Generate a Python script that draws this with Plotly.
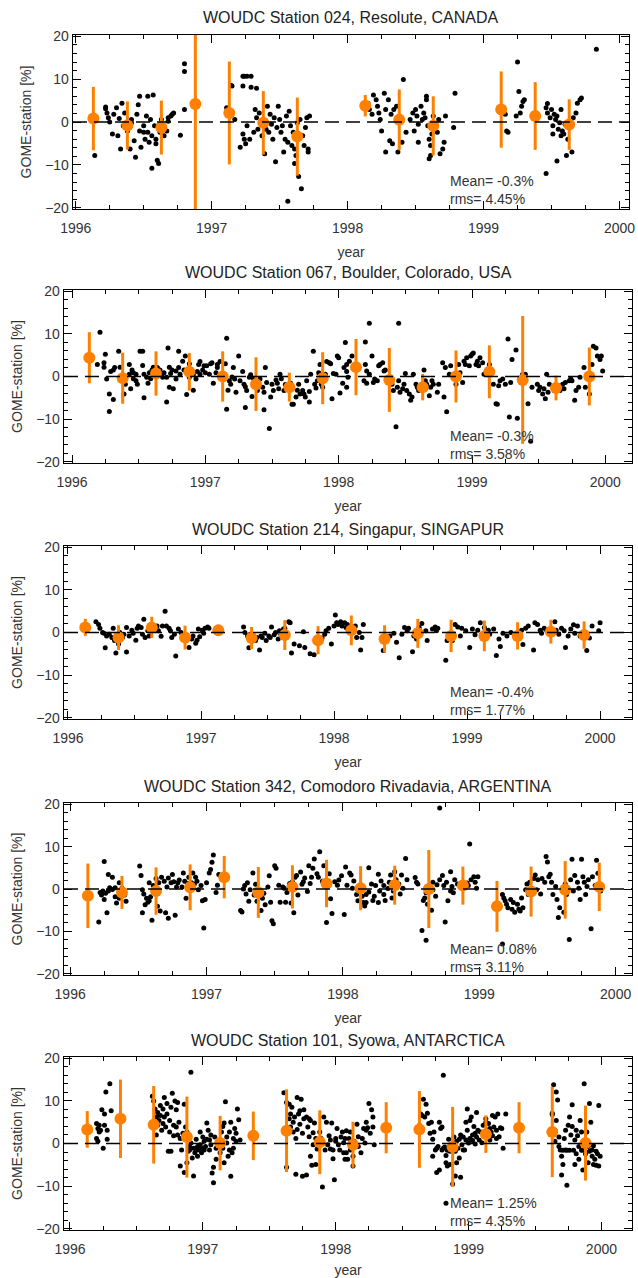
import plotly.graph_objects as go

# daily GOME minus station differences, (year, percent)
resolute_daily = [
    (1996.14, -7.8), (1996.22, 3.5), (1996.22, 3.1), (1996.23, 2.1), (1996.24, 1.0), (1996.25, 0.0),
    (1996.27, -2.8), (1996.28, 1.8), (1996.30, 3.3), (1996.31, -3.2), (1996.32, 0.8), (1996.33, -6.3),
    (1996.34, 4.4), (1996.35, -0.9), (1996.36, 2.1), (1996.37, -1.3), (1996.38, -2.1), (1996.40, -6.3),
    (1996.41, -0.2), (1996.41, 0.6), (1996.43, -4.4), (1996.44, -8.2), (1996.45, 1.8), (1996.46, 4.0),
    (1996.47, 6.0), (1996.47, -2.1), (1996.48, -5.9), (1996.50, -0.9), (1996.50, -2.4), (1996.51, -4.0),
    (1996.52, 1.4), (1996.53, 6.0), (1996.53, -2.4), (1996.54, -4.7), (1996.55, 0.6), (1996.56, -3.2),
    (1996.56, -10.8), (1996.57, 6.3), (1996.58, -0.9), (1996.59, -4.0), (1996.59, -5.1), (1996.60, -8.9),
    (1996.61, -9.7), (1996.62, -2.4), (1996.63, 0.6), (1996.65, -3.2), (1996.65, -1.3), (1996.67, -2.1),
    (1996.68, 0.2), (1996.68, 1.0), (1996.70, 1.4), (1996.71, 1.8), (1996.72, 2.1), (1996.77, -3.1),
    (1996.80, 13.6), (1996.80, 11.8), (1996.80, 2.9), (1997.11, 3.3), (1997.14, 8.6), (1997.15, 8.4),
    (1997.17, 0.6), (1997.21, -5.9), (1997.23, -2.8), (1997.24, -4.0), (1997.25, -5.1), (1997.23, 10.7),
    (1997.24, 10.7), (1997.26, 10.7), (1997.29, 10.7), (1997.23, 8.4), (1997.29, 8.1), (1997.33, 7.9),
    (1997.26, -0.9), (1997.28, -4.0), (1997.31, -2.4), (1997.32, 2.9), (1997.33, 1.0), (1997.34, -1.7),
    (1997.35, 2.1), (1997.37, -3.2), (1997.38, -0.2), (1997.39, -7.4), (1997.40, -1.7), (1997.41, 3.7),
    (1997.42, -2.4), (1997.43, 1.8), (1997.44, -0.5), (1997.45, -4.0), (1997.46, 1.0), (1997.47, -9.3),
    (1997.48, -1.3), (1997.49, 3.7), (1997.50, 0.6), (1997.51, -2.4), (1997.52, -0.9), (1997.53, -7.0),
    (1997.54, -4.0), (1997.55, 1.4), (1997.56, -4.7), (1997.56, -18.5), (1997.57, 2.5), (1997.58, -0.9),
    (1997.59, -5.5), (1997.60, -2.4), (1997.61, -9.7), (1997.61, -6.3), (1997.62, -7.8), (1997.63, -0.2),
    (1997.64, -12.7), (1997.65, 0.6), (1997.66, -15.6), (1997.67, -3.2), (1997.68, -5.5), (1997.69, -1.3),
    (1997.70, 1.0), (1997.71, -6.3), (1997.71, -7.0), (1997.72, 1.4), (1998.15, 4.4), (1998.16, 2.9),
    (1998.18, 1.8), (1998.19, 6.3), (1998.21, 5.2), (1998.22, 3.7), (1998.23, 2.1), (1998.24, 0.6),
    (1998.25, -2.1), (1998.27, 6.7), (1998.28, -7.0), (1998.28, 2.9), (1998.30, 5.2), (1998.31, -4.4),
    (1998.32, 1.8), (1998.33, -5.1), (1998.34, 2.9), (1998.36, 3.7), (1998.37, -7.0), (1998.38, 1.4),
    (1998.40, -4.7), (1998.41, 9.9), (1998.43, -2.4), (1998.46, 0.6), (1998.48, 2.1), (1998.49, -2.1),
    (1998.50, 2.9), (1998.51, 1.4), (1998.52, -4.7), (1998.52, -0.5), (1998.54, 3.7), (1998.55, 0.6),
    (1998.56, 2.1), (1998.57, 1.0), (1998.58, 6.0), (1998.58, 5.2), (1998.59, -0.9), (1998.60, -4.0),
    (1998.61, -5.5), (1998.61, -7.8), (1998.62, -2.8), (1998.60, -8.6), (1998.63, 1.4), (1998.64, -0.9),
    (1998.66, -2.4), (1998.67, 0.6), (1998.68, -7.4), (1998.70, -6.3), (1998.71, -4.7), (1998.72, 1.4),
    (1998.78, -1.3), (1998.79, 6.7), (1999.16, 1.8), (1999.17, -2.1), (1999.18, -2.4), (1999.24, 1.4),
    (1999.25, 14.0), (1999.26, 7.1), (1999.27, 2.1), (1999.28, 3.7), (1999.29, 4.8), (1999.30, 5.2),
    (1999.46, 3.3), (1999.46, -12.0), (1999.47, 4.3), (1999.47, 2.1), (1999.49, 1.0), (1999.50, 2.9),
    (1999.51, -2.8), (1999.51, -0.9), (1999.52, 1.8), (1999.53, 0.6), (1999.54, -9.1), (1999.54, 1.4),
    (1999.55, -1.7), (1999.56, -0.2), (1999.57, 2.9), (1999.57, -3.2), (1999.58, -2.1), (1999.59, -2.8),
    (1999.60, -0.5), (1999.61, -7.8), (1999.62, -4.0), (1999.63, -0.9), (1999.65, -7.0), (1999.66, 1.0),
    (1999.68, 2.1), (1999.69, 4.4), (1999.71, 5.2), (1999.72, 5.6), (1999.83, 17.0),
]

boulder_daily = [
    (1996.21, 10.4), (1996.19, 2.8), (1996.24, 3.2), (1996.25, 5.2), (1996.24, 2.2), (1996.26, -0.6),
    (1996.28, -4.1), (1996.31, -5.4), (1996.28, -8.2), (1996.29, 1.2), (1996.31, 1.5), (1996.32, 2.1),
    (1996.35, 5.9), (1996.36, 2.2), (1996.39, -4.1), (1996.40, -1.8), (1996.43, 0.5), (1996.43, 2.8),
    (1996.44, -2.9), (1996.45, 1.5), (1996.46, -0.5), (1996.46, 0.9), (1996.48, -1.0), (1996.48, 0.5),
    (1996.49, -1.8), (1996.51, 5.9), (1996.53, 5.9), (1996.53, 2.6), (1996.54, -5.0), (1996.54, 0.5),
    (1996.56, -0.2), (1996.57, -1.6), (1996.58, 0.9), (1996.59, -0.5), (1996.60, 1.5), (1996.61, 2.2),
    (1996.64, 2.1), (1996.65, 1.2), (1996.66, 1.5), (1996.67, 0.5), (1996.68, -0.2), (1996.69, 0.9),
    (1996.71, -6.0), (1996.71, -0.2), (1996.72, 6.7), (1996.73, 2.2), (1996.73, -2.5), (1996.74, 0.7),
    (1996.75, 1.5), (1996.76, -2.9), (1996.78, -0.6), (1996.78, 1.3), (1996.80, 5.9), (1996.80, 2.1),
    (1996.81, 0.5), (1996.83, 3.6), (1996.84, 1.5), (1996.85, 4.8), (1996.86, -4.2), (1996.88, -0.2),
    (1996.88, 3.0), (1996.90, 1.2), (1996.91, -3.2), (1996.91, 0.4), (1996.93, -0.6), (1996.94, 1.2),
    (1996.95, 2.8), (1996.96, 3.5), (1996.96, 0.5), (1996.98, 1.5), (1996.99, 2.5), (1997.00, 0.9),
    (1997.01, 2.5), (1997.03, 0.5), (1997.04, 3.0), (1997.05, 3.2), (1997.06, -1.6), (1997.08, 0.9),
    (1997.09, 2.1), (1997.09, 2.8), (1997.11, 3.5), (1997.13, 0.7), (1997.15, 3.0), (1997.16, -7.7),
    (1997.16, 9.0), (1997.17, -3.2), (1997.18, -1.0), (1997.19, -1.8), (1997.20, -0.1), (1997.21, 2.1),
    (1997.22, -0.6), (1997.23, -3.7), (1997.25, 4.8), (1997.26, -1.0), (1997.28, 1.2), (1997.29, -1.8),
    (1997.30, -2.4), (1997.30, -7.3), (1997.31, -3.3), (1997.33, -0.2), (1997.34, 0.4), (1997.35, -4.7),
    (1997.36, -0.4), (1997.38, -1.8), (1997.39, -3.3), (1997.40, -1.4), (1997.41, -0.6), (1997.43, -2.5),
    (1997.44, -3.7), (1997.44, -7.8), (1997.45, 2.1), (1997.46, -1.4), (1997.48, -12.2), (1997.49, -4.8),
    (1997.50, -1.8), (1997.51, -3.3), (1997.53, -0.8), (1997.54, -1.6), (1997.55, -2.9), (1997.56, 0.5),
    (1997.57, -0.5), (1997.59, -3.3), (1997.60, -1.9), (1997.61, -2.4), (1997.64, -1.6), (1997.65, -6.5),
    (1997.66, -6.5), (1997.68, -4.8), (1997.69, -3.2), (1997.70, -1.8), (1997.71, -4.1), (1997.73, -3.3),
    (1997.74, -4.1), (1997.75, -4.8), (1997.76, -1.0), (1997.78, -6.0), (1997.78, -3.5), (1997.79, 0.5),
    (1997.81, 5.9), (1997.82, -1.8), (1997.83, -2.7), (1997.84, -1.0), (1997.85, 0.9), (1997.86, 2.8),
    (1997.87, -1.8), (1997.88, -2.5), (1997.90, 0.5), (1997.91, 3.5), (1997.93, 3.2), (1997.94, 3.0),
    (1997.95, -5.2), (1997.96, 0.7), (1997.98, 0.5), (1997.99, 4.8), (1998.00, 4.4), (1998.01, -3.9),
    (1998.03, -1.6), (1998.04, 2.1), (1998.05, 8.0), (1998.06, 2.8), (1998.07, -0.2), (1998.06, 1.2),
    (1998.06, -2.5), (1998.08, 3.6), (1998.10, 4.8), (1998.20, 8.1), (1998.23, 12.5), (1998.20, 2.8),
    (1998.21, 1.3), (1998.23, 0.5), (1998.25, 4.8), (1998.19, -1.0), (1998.21, -1.6), (1998.26, -1.4),
    (1998.27, -0.6), (1998.29, -1.0), (1998.30, 2.5), (1998.31, 2.8), (1998.33, 3.2), (1998.34, 1.3),
    (1998.35, 1.5), (1998.40, -1.8), (1998.41, -3.3), (1998.43, -11.8), (1998.44, -2.5), (1998.45, 12.5),
    (1998.45, -1.0), (1998.46, -3.7), (1998.48, -2.9), (1998.49, -1.8), (1998.50, 0.7), (1998.51, -3.3),
    (1998.53, -4.1), (1998.54, -5.6), (1998.55, -4.8), (1998.56, 0.5), (1998.58, -1.8), (1998.59, -2.5),
    (1998.60, -3.3), (1998.64, 1.5), (1998.65, -1.0), (1998.66, -1.8), (1998.68, -4.5), (1998.69, -2.5),
    (1998.70, -1.0), (1998.71, -1.8), (1998.74, -3.7), (1998.75, -1.8), (1998.78, 3.2), (1998.79, -4.8),
    (1998.80, 2.1), (1998.81, -8.3), (1998.83, 0.5), (1998.84, 2.5), (1998.88, -1.8), (1998.90, 2.8),
    (1998.91, 0.9), (1998.93, -1.4), (1998.94, 3.6), (1998.95, 2.8), (1998.96, 4.4), (1998.98, 2.5),
    (1998.99, 4.8), (1999.00, 5.2), (1999.01, 5.5), (1999.03, 2.8), (1999.04, 3.6), (1999.05, 2.5),
    (1999.06, 4.4), (1999.08, 3.2), (1999.09, 0.5), (1999.13, 2.8), (1999.15, 0.9), (1999.16, -1.8),
    (1999.18, -6.4), (1999.19, -6.5), (1999.20, -2.2), (1999.21, -1.0), (1999.23, -0.6), (1999.25, -1.8),
    (1999.27, 8.8), (1999.28, -9.5), (1999.29, -1.4), (1999.30, 4.0), (1999.33, 6.2), (1999.34, -9.8),
    (1999.38, 0.5), (1999.40, 0.5), (1999.42, -6.4), (1999.44, -15.2), (1999.45, -2.5), (1999.49, -1.8),
    (1999.50, -3.3), (1999.51, -2.5), (1999.53, -4.1), (1999.54, -2.9), (1999.55, -5.2), (1999.56, 0.5),
    (1999.57, -3.7), (1999.58, -1.8), (1999.65, -2.2), (1999.66, -3.3), (1999.68, -1.8), (1999.69, -2.9),
    (1999.70, -1.4), (1999.73, -1.0), (1999.74, -0.5), (1999.75, -1.0), (1999.77, -5.6), (1999.78, -3.3),
    (1999.80, -2.5), (1999.81, -0.2), (1999.84, 2.1), (1999.85, -2.5), (1999.88, -4.1), (1999.90, 2.8),
    (1999.91, 7.1), (1999.93, 6.7), (1999.94, 4.8), (1999.96, 4.0), (1999.97, 4.8), (1999.98, 1.3),
]

singapur_daily = [
    (1996.21, 2.5), (1996.23, 1.9), (1996.24, 1.0), (1996.26, 0.0), (1996.27, -0.2), (1996.28, -3.6),
    (1996.29, -0.8), (1996.31, -0.4), (1996.33, -1.2), (1996.34, 1.0), (1996.35, -1.9), (1996.36, -4.8),
    (1996.38, -2.7), (1996.39, 0.0), (1996.41, -1.2), (1996.42, -0.4), (1996.44, -4.6), (1996.44, 1.2),
    (1996.46, -0.8), (1996.48, 0.5), (1996.49, -0.2), (1996.51, -1.8), (1996.52, 1.0), (1996.53, 1.5),
    (1996.55, 1.2), (1996.56, -0.4), (1996.57, 3.1), (1996.58, -1.2), (1996.60, 0.4), (1996.61, -0.8),
    (1996.65, 0.8), (1996.67, 1.5), (1996.68, 0.4), (1996.70, -0.9), (1996.71, 1.5), (1996.73, 5.0),
    (1996.74, 1.5), (1996.76, 1.0), (1996.77, 0.4), (1996.78, -1.2), (1996.80, -0.4), (1996.81, -5.5),
    (1996.83, 0.8), (1996.85, 0.0), (1996.89, -1.9), (1996.91, -3.5), (1996.93, -1.5), (1996.94, -0.8),
    (1996.96, -2.5), (1996.97, -1.8), (1996.98, 0.8), (1996.99, -1.0), (1997.01, 0.5), (1997.02, -0.2),
    (1997.03, 1.0), (1997.05, 1.3), (1997.06, 1.0), (1997.32, 1.3), (1997.33, 0.0), (1997.35, -0.8),
    (1997.36, -3.6), (1997.37, -0.4), (1997.39, -1.5), (1997.41, -1.9), (1997.42, -1.2), (1997.44, -4.1),
    (1997.45, -0.8), (1997.46, -1.2), (1997.48, -0.2), (1997.49, -1.9), (1997.51, -0.8), (1997.52, -1.2),
    (1997.53, 1.3), (1997.55, -0.5), (1997.56, 0.0), (1997.58, -1.5), (1997.59, 0.4), (1997.60, -0.4),
    (1997.62, 0.8), (1997.63, 1.0), (1997.66, 2.5), (1997.67, 2.3), (1997.68, -4.8), (1997.70, -2.7),
    (1997.74, -3.1), (1997.77, 0.2), (1997.78, -3.5), (1997.82, -5.0), (1997.85, -5.2), (1997.91, -1.3),
    (1997.93, -0.4), (1997.94, 0.4), (1997.96, 1.0), (1997.98, -2.7), (1998.00, 1.5), (1998.01, 4.1),
    (1998.02, 2.3), (1998.03, 1.9), (1998.05, 2.5), (1998.06, 1.5), (1998.08, 2.3), (1998.09, 1.2),
    (1998.10, 1.9), (1998.14, 0.8), (1998.16, 1.5), (1998.17, -1.2), (1998.19, 0.0), (1998.20, -4.1),
    (1998.21, -1.2), (1998.22, 1.9), (1998.37, -4.2), (1998.38, -1.9), (1998.42, -0.8), (1998.45, -0.2),
    (1998.47, -2.3), (1998.49, -5.9), (1998.51, -0.4), (1998.53, 1.2), (1998.55, 0.4), (1998.56, 1.0),
    (1998.59, -4.5), (1998.60, -0.8), (1998.62, -1.5), (1998.64, 1.2), (1998.66, 2.1), (1998.69, 0.4),
    (1998.70, -1.9), (1998.74, 0.8), (1998.76, 1.3), (1998.77, 0.4), (1998.78, 1.0), (1998.84, -6.5),
    (1998.85, -1.9), (1998.89, -1.9), (1998.91, 1.9), (1998.93, 1.3), (1998.95, -0.8), (1998.96, 1.0),
    (1998.99, 0.4), (1999.02, -3.5), (1999.04, 0.8), (1999.06, -0.5), (1999.08, 0.5), (1999.10, 2.3),
    (1999.13, 1.2), (1999.16, 0.5), (1999.17, -0.4), (1999.20, 0.8), (1999.22, -5.4), (1999.24, -1.5),
    (1999.25, -3.3), (1999.27, -0.2), (1999.30, -0.8), (1999.33, 0.0), (1999.39, -1.3), (1999.41, 0.5),
    (1999.42, -2.8), (1999.44, 1.0), (1999.46, 1.5), (1999.50, -4.1), (1999.51, 2.3), (1999.53, 1.9),
    (1999.55, 0.5), (1999.56, -0.2), (1999.58, 1.0), (1999.60, 0.4), (1999.66, 2.5), (1999.67, 0.5),
    (1999.69, -0.4), (1999.71, 1.0), (1999.73, 0.4), (1999.74, -3.5), (1999.76, -0.8), (1999.78, 0.8),
    (1999.80, 1.8), (1999.81, -0.2), (1999.83, 1.5), (1999.85, -0.8), (1999.90, -4.2), (1999.92, -1.3),
    (1999.94, 1.5), (1999.99, 0.4), (2000.00, 2.3),
]

comodoro_daily = [
    (1996.21, -7.8), (1996.22, -0.8), (1996.23, -1.4), (1996.24, -0.5), (1996.25, 6.5), (1996.25, -2.5),
    (1996.26, -1.0), (1996.27, -5.6), (1996.28, -0.5), (1996.28, 3.4), (1996.29, 0.3), (1996.31, -0.1),
    (1996.31, 2.8), (1996.33, -1.8), (1996.33, 0.3), (1996.34, -3.3), (1996.36, 1.5), (1996.36, -2.2),
    (1996.38, 0.2), (1996.40, -1.4), (1996.41, -2.9), (1996.51, 5.4), (1996.52, 3.2), (1996.53, -0.2),
    (1996.53, -5.6), (1996.54, -1.2), (1996.55, -3.7), (1996.56, -2.2), (1996.57, -3.1), (1996.58, 1.5),
    (1996.58, -2.8), (1996.59, -1.8), (1996.60, -7.4), (1996.61, 0.8), (1996.62, -1.0), (1996.63, 2.5),
    (1996.64, -4.1), (1996.65, 1.5), (1996.66, -5.2), (1996.67, 2.8), (1996.69, 1.8), (1996.70, -5.6),
    (1996.71, 0.5), (1996.72, -6.9), (1996.72, 2.6), (1996.74, 1.5), (1996.75, 3.4), (1996.76, 1.7),
    (1996.77, -6.2), (1996.78, 0.5), (1996.79, 1.5), (1996.80, 2.1), (1996.82, 0.5), (1996.83, 3.8),
    (1996.84, 1.8), (1996.85, -2.2), (1996.86, 1.3), (1996.87, 2.8), (1996.89, 1.5), (1996.90, 3.8),
    (1996.91, 1.1), (1996.92, 2.8), (1996.93, 1.8), (1996.94, -0.2), (1996.96, 0.8), (1996.97, -2.8),
    (1996.98, -9.2), (1996.99, -2.5), (1997.00, 1.5), (1997.02, 3.8), (1997.03, 4.6), (1997.04, 6.3),
    (1997.05, 8.0), (1997.07, -0.8), (1997.08, 0.9), (1997.09, 3.4), (1997.25, -5.1), (1997.26, -5.4),
    (1997.27, 0.0), (1997.28, 0.8), (1997.29, -1.2), (1997.30, 1.5), (1997.31, -2.9), (1997.32, -0.2),
    (1997.34, 3.8), (1997.35, -1.4), (1997.36, 1.1), (1997.37, -2.9), (1997.40, -5.1), (1997.41, -2.2),
    (1997.42, -1.0), (1997.43, -3.7), (1997.45, 0.5), (1997.46, 3.1), (1997.47, -3.1), (1997.48, -7.5),
    (1997.49, -8.2), (1997.50, 5.5), (1997.51, 4.9), (1997.53, 0.9), (1997.54, -3.1), (1997.56, 0.5),
    (1997.57, 0.2), (1997.58, -3.1), (1997.59, -0.8), (1997.61, 1.3), (1997.62, -3.3), (1997.63, 1.7),
    (1997.64, -5.6), (1997.65, 2.8), (1997.66, 3.2), (1997.67, -1.4), (1997.69, 4.0), (1997.70, 1.1),
    (1997.71, 1.7), (1997.72, 2.6), (1997.74, -0.6), (1997.75, 5.5), (1997.76, 1.3), (1997.77, 2.8),
    (1997.78, 4.9), (1997.79, 7.1), (1997.81, 3.6), (1997.82, 2.8), (1997.83, 8.8), (1997.85, 1.8),
    (1997.86, 5.5), (1997.88, -7.9), (1997.90, 3.6), (1997.91, -2.3), (1997.92, -5.8), (1997.94, 1.7),
    (1997.96, 0.9), (1997.97, 2.1), (1997.99, 3.1), (1998.01, -6.0), (1998.02, 5.2), (1998.03, 0.9),
    (1998.05, 3.8), (1998.06, 3.3), (1998.07, 0.2), (1998.08, 1.9), (1998.10, -1.3), (1998.11, -2.8),
    (1998.14, -1.7), (1998.15, -3.2), (1998.16, -4.0), (1998.17, -1.3), (1998.17, -3.2), (1998.19, 5.0),
    (1998.19, -0.7), (1998.21, 1.2), (1998.22, -2.7), (1998.23, -1.7), (1998.24, 0.8), (1998.26, -3.2),
    (1998.26, 3.5), (1998.27, -0.5), (1998.28, 1.9), (1998.30, 0.8), (1998.30, -1.3), (1998.31, -2.7),
    (1998.33, 0.1), (1998.34, 1.6), (1998.35, 3.3), (1998.36, -2.1), (1998.37, -0.5), (1998.38, 4.1),
    (1998.39, 2.2), (1998.41, 1.2), (1998.42, -1.2), (1998.43, 3.3), (1998.44, 0.2), (1998.46, 7.2),
    (1998.47, 2.2), (1998.53, 2.7), (1998.54, 1.6), (1998.55, 1.2), (1998.58, -9.8), (1998.59, -2.7),
    (1998.60, -2.1), (1998.61, -12.1), (1998.61, -0.9), (1998.62, -3.6), (1998.65, -5.0), (1998.66, -0.2),
    (1998.66, 1.6), (1998.68, -1.7), (1998.69, 1.0), (1998.71, 19.1), (1998.71, 2.2), (1998.73, 3.2),
    (1998.74, 0.8), (1998.75, -7.8), (1998.76, 1.6), (1998.77, -2.8), (1998.79, -0.5), (1998.79, 4.1),
    (1998.80, 0.6), (1998.81, -0.9), (1998.82, 2.2), (1998.84, 1.2), (1998.93, 10.6), (1998.91, 1.4),
    (1998.92, 0.8), (1998.94, 2.2), (1998.96, 2.9), (1998.97, 1.6), (1998.98, 0.2), (1998.99, 2.9),
    (1999.17, -1.3), (1999.17, -13.0), (1999.18, -2.1), (1999.19, -2.8), (1999.20, -3.6), (1999.21, -4.4),
    (1999.23, -2.5), (1999.24, -4.8), (1999.25, -3.2), (1999.26, -5.5), (1999.28, -3.6), (1999.29, -4.8),
    (1999.30, -5.2), (1999.31, -2.1), (1999.32, -4.4), (1999.34, -0.2), (1999.35, 1.2), (1999.36, -1.3),
    (1999.37, 1.6), (1999.40, 2.5), (1999.41, 3.3), (1999.42, -0.2), (1999.43, 2.2), (1999.45, -1.2),
    (1999.46, 2.5), (1999.48, 1.6), (1999.49, 7.7), (1999.50, 6.4), (1999.51, 2.9), (1999.52, 3.5),
    (1999.53, 1.6), (1999.54, -1.3), (1999.56, 0.6), (1999.57, -2.5), (1999.58, -6.7), (1999.59, -4.4),
    (1999.61, -0.5), (1999.62, -5.5), (1999.63, 1.2), (1999.64, -1.3), (1999.66, -11.9), (1999.67, 2.2),
    (1999.68, 7.0), (1999.69, -0.5), (1999.70, 3.2), (1999.72, 1.6), (1999.73, 0.2), (1999.74, -2.5),
    (1999.75, 7.0), (1999.76, 2.9), (1999.77, 1.6), (1999.78, -1.3), (1999.79, 0.6), (1999.80, 2.2),
    (1999.82, -9.4), (1999.83, 2.9), (1999.85, 0.8), (1999.86, 6.8), (1999.87, 3.7), (1999.89, -0.5),
]

syowa_daily = [
    (1996.20, 1.2), (1996.20, 4.7), (1996.21, 0.5), (1996.21, 3.5), (1996.22, 2.7), (1996.22, 4.3),
    (1996.23, 3.1), (1996.24, 7.9), (1996.25, -1.1), (1996.26, 6.9), (1996.26, 4.3), (1996.27, 12.1),
    (1996.28, 1.0), (1996.28, 3.1), (1996.30, 14.0), (1996.31, 7.7), (1996.62, 11.1), (1996.63, 10.0),
    (1996.64, 8.1), (1996.65, 6.2), (1996.65, 2.0), (1996.66, 4.3), (1996.66, 7.3), (1996.67, 5.4),
    (1996.68, 8.9), (1996.68, 6.6), (1996.69, 3.1), (1996.70, 4.7), (1996.70, 8.1), (1996.71, 10.8),
    (1996.71, 6.2), (1996.72, 3.9), (1996.73, 9.4), (1996.73, 6.9), (1996.74, -1.8), (1996.75, 2.7),
    (1996.75, 5.4), (1996.76, -1.8), (1996.76, 8.5), (1996.77, 11.8), (1996.78, 4.3), (1996.78, 1.8),
    (1996.79, 10.0), (1996.80, 7.9), (1996.80, 3.9), (1996.81, 9.6), (1996.81, 2.0), (1996.82, 5.0),
    (1996.83, -5.3), (1996.83, 1.2), (1996.84, -1.5), (1996.85, 2.4), (1996.86, -6.8), (1996.86, 9.2),
    (1996.87, 3.9), (1996.88, 2.7), (1996.88, -4.5), (1996.89, -1.8), (1996.90, -0.7), (1996.90, -1.5),
    (1996.91, 16.7), (1996.91, 0.1), (1996.92, -3.4), (1996.93, -7.6), (1996.93, -1.1), (1996.94, -2.2),
    (1996.95, 1.0), (1996.95, -1.5), (1996.96, -0.7), (1996.96, -3.0), (1996.97, -1.5), (1996.98, 2.7),
    (1996.98, -0.3), (1996.99, -2.2), (1996.99, -1.1), (1997.00, 1.5), (1997.01, -1.5), (1997.01, 0.5),
    (1997.02, -0.7), (1997.03, 1.0), (1997.03, 4.8), (1997.04, 3.1), (1997.05, 0.8), (1997.05, -1.5),
    (1997.06, 2.0), (1997.06, -0.3), (1997.07, -6.9), (1997.08, -5.6), (1997.08, -9.2), (1997.09, 1.5),
    (1997.10, -3.7), (1997.10, -1.1), (1997.11, 0.2), (1997.13, -2.2), (1997.14, 2.7), (1997.15, 4.0),
    (1997.15, -1.1), (1997.16, 4.8), (1997.16, -4.5), (1997.17, 9.8), (1997.18, 0.1), (1997.18, 1.5),
    (1997.19, -3.0), (1997.20, 2.7), (1997.20, -1.5), (1997.21, 5.0), (1997.21, -7.7), (1997.22, -2.2),
    (1997.23, 1.2), (1997.23, -1.1), (1997.24, 3.5), (1997.25, 0.5), (1997.25, 2.4), (1997.26, 8.1),
    (1997.27, 5.6), (1997.28, 0.8), (1997.61, 11.9), (1997.63, 9.6), (1997.63, -5.6), (1997.65, 9.2),
    (1997.65, 5.8), (1997.66, 3.9), (1997.66, 6.9), (1997.67, 8.5), (1997.68, 5.0), (1997.68, 2.7),
    (1997.69, 6.2), (1997.70, -7.2), (1997.70, 1.2), (1997.71, 3.3), (1997.71, 10.8), (1997.72, 6.9),
    (1997.73, 4.5), (1997.73, 7.7), (1997.74, 10.4), (1997.75, -7.7), (1997.75, 2.4), (1997.76, 5.8),
    (1997.76, 7.9), (1997.78, 6.2), (1997.78, -7.4), (1997.79, 3.9), (1997.80, 5.8), (1997.80, 1.6),
    (1997.81, 5.4), (1997.81, -3.0), (1997.82, -5.1), (1997.83, 2.5), (1997.83, -0.3), (1997.84, 4.8),
    (1997.85, -4.9), (1997.85, 1.2), (1997.86, -1.3), (1997.88, 2.7), (1997.89, 1.2), (1997.90, -10.2),
    (1997.90, 0.1), (1997.91, 6.2), (1997.92, -1.5), (1997.93, 5.0), (1997.94, -0.3), (1997.95, 1.8),
    (1997.96, -1.3), (1997.96, 0.8), (1997.97, 4.8), (1997.98, -1.5), (1997.98, -3.6), (1997.99, -8.5),
    (1998.00, 1.2), (1998.00, 0.5), (1998.01, 3.5), (1998.02, -0.3), (1998.03, -1.5), (1998.04, 1.5),
    (1998.05, 2.7), (1998.06, -2.2), (1998.06, 0.2), (1998.07, -3.7), (1998.08, 3.0), (1998.07, 1.2),
    (1998.08, -2.2), (1998.09, -3.7), (1998.10, 1.2), (1998.11, -1.5), (1998.11, 2.7), (1998.13, -3.0),
    (1998.13, -5.3), (1998.14, 0.5), (1998.16, 4.5), (1998.17, -0.7), (1998.17, 1.6), (1998.19, -2.2),
    (1998.20, 1.2), (1998.21, 3.5), (1998.22, 0.1), (1998.23, 5.0), (1998.23, 3.1), (1998.24, 3.7),
    (1998.25, 9.4), (1998.26, 2.4), (1998.27, 7.9), (1998.28, 6.2), (1998.28, 3.9), (1998.29, -0.3),
    (1998.61, 3.1), (1998.63, 4.3), (1998.64, 6.9), (1998.65, 6.6), (1998.66, 10.4), (1998.67, 6.2),
    (1998.68, 9.2), (1998.69, 7.1), (1998.70, 4.7), (1998.71, 2.4), (1998.72, 5.0), (1998.73, 1.0),
    (1998.73, -3.0), (1998.74, 2.7), (1998.75, -1.5), (1998.76, -6.8), (1998.76, -1.1), (1998.77, -0.7),
    (1998.78, 5.0), (1998.78, -6.2), (1998.79, 3.5), (1998.80, -1.5), (1998.80, 3.9), (1998.81, -1.1),
    (1998.81, 16.0), (1998.82, -0.8), (1998.83, -4.5), (1998.83, -2.8), (1998.84, -1.6), (1998.84, -5.3),
    (1998.85, 1.0), (1998.86, -1.8), (1998.86, -4.9), (1998.88, -0.7), (1998.88, -9.5), (1998.89, 1.5),
    (1998.90, -7.6), (1998.90, -1.8), (1998.91, 0.5), (1998.91, -4.5), (1998.92, -1.1), (1998.93, -3.4),
    (1998.93, 1.0), (1998.94, -7.9), (1998.94, 2.0), (1998.95, -0.3), (1998.96, -1.5), (1998.96, 1.5),
    (1998.97, -1.5), (1998.98, 5.0), (1998.98, 0.8), (1998.99, 8.1), (1998.99, 3.1), (1999.00, 0.1),
    (1999.01, 5.4), (1999.01, 1.2), (1999.02, 6.2), (1999.03, 2.0), (1999.03, 0.7), (1999.04, 4.0),
    (1999.05, 2.4), (1999.05, -0.1), (1999.06, 7.3), (1999.06, 1.5), (1999.07, 3.1), (1999.08, 0.8),
    (1999.09, 2.7), (1999.10, 0.2), (1999.11, 4.3), (1999.13, 5.8), (1999.13, 5.0), (1999.14, 3.1),
    (1999.15, 4.7), (1999.15, 2.0), (1999.16, 3.5), (1999.16, 0.8), (1999.17, 2.7), (1999.18, 6.6),
    (1999.18, 1.8), (1999.19, 3.9), (1999.20, 6.2), (1999.21, 1.2), (1999.21, 3.1), (1999.22, 6.9),
    (1999.23, 1.6), (1999.24, 3.7), (1999.25, 3.5), (1999.26, -1.1), (1999.28, 6.9), (1998.83, -14.0),
    (1999.63, 6.8), (1999.63, 7.1), (1999.64, 13.8), (1999.65, 3.1), (1999.65, 0.5), (1999.66, 12.1),
    (1999.66, 5.4), (1999.67, 10.2), (1999.68, -0.7), (1999.68, 1.5), (1999.69, -1.5), (1999.70, -3.0),
    (1999.70, -7.4), (1999.71, -4.9), (1999.71, -1.6), (1999.72, 1.2), (1999.73, -1.5), (1999.73, 3.1),
    (1999.74, -9.8), (1999.74, -1.6), (1999.75, 4.3), (1999.76, 6.2), (1999.76, -1.6), (1999.77, 2.0),
    (1999.78, 9.1), (1999.78, 4.0), (1999.79, -1.6), (1999.80, -4.9), (1999.80, 0.8), (1999.81, 3.1),
    (1999.81, -2.4), (1999.82, 1.8), (1999.83, -0.7), (1999.83, -3.7), (1999.84, 5.4), (1999.85, -1.6),
    (1999.85, 2.7), (1999.86, -6.2), (1999.86, -1.5), (1999.87, 14.0), (1999.88, 0.5), (1999.88, -2.4),
    (1999.89, 2.7), (1999.90, -4.5), (1999.90, -0.7), (1999.91, 9.4), (1999.91, -1.8), (1999.92, 5.0),
    (1999.93, -3.0), (1999.93, -1.5), (1999.94, -4.9), (1999.94, -0.5), (1999.95, -3.7), (1999.96, -1.8),
    (1999.96, -5.1), (1999.97, -2.4), (1999.98, 8.9), (1999.98, -5.3), (1999.99, -3.0),
]

# quarterly means with standard deviation
q_all = [1996.13, 1996.38, 1996.63, 1996.88, 1997.13, 1997.38, 1997.63, 1997.88,
         1998.13, 1998.38, 1998.63, 1998.88, 1999.13, 1999.38, 1999.63, 1999.88]

resolute_qx = [1996.13, 1996.38, 1996.63, 1996.88, 1997.13, 1997.38, 1997.63,
               1998.13, 1998.38, 1998.63, 1999.13, 1999.38, 1999.63]
resolute_qy = [0.8, -0.8, -1.3, 4.2, 2.1, -0.2, -3.4, 3.8, 0.5, -0.9, 2.9, 1.4, -0.6]
resolute_qerr = [7.4, 5.6, 6.3, 26.0, 12.0, 7.4, 9.1, 2.5, 7.1, 6.9, 8.9, 7.9, 5.9]

boulder_qy = [4.4, -0.4, 0.7, 1.1, 0.0, -1.8, -2.5, -0.4, 2.2, -0.8, -2.5, 0.0, 1.1, -0.8, -2.7, 0.0]
boulder_qerr = [6.0, 6.0, 5.2, 4.4, 5.9, 6.3, 3.4, 6.1, 6.6, 7.5, 3.1, 6.1, 6.2, 15.0, 2.9, 6.8]

singapur_qy = [1.2, -1.2, 1.2, -1.2, 0.5, -1.3, -0.6, -1.8, 0.5, -1.5, -0.2, -0.8, -0.8, -0.8, 0.2, -0.6]
singapur_qerr = [2.0, 2.9, 2.5, 2.8, 1.3, 2.6, 3.5, 3.3, 3.5, 3.2, 3.4, 3.8, 3.6, 3.2, 2.8, 3.2]

comodoro_qy = [-1.6, -0.8, -0.5, 0.4, 2.8, -0.8, 0.5, 1.3, 0.2, 0.9, 0.0, 0.8, -4.1, -0.6, -0.2, 0.5]
comodoro_qerr = [7.6, 3.9, 5.6, 5.4, 5.0, 6.0, 5.1, 5.6, 5.2, 4.6, 9.2, 4.5, 6.0, 5.9, 6.8, 5.7]

syowa_qy = [3.3, 5.8, 4.4, 1.5, 0.1, 1.8, 3.0, 0.3, -0.3, 3.7, 3.3, -0.8, 2.2, 3.7, 2.7, 0.1]
syowa_qerr = [4.3, 9.2, 9.1, 9.5, 6.4, 5.7, 9.7, 7.5, 5.4, 6.0, 9.0, 9.4, 4.4, 6.0, 10.6, 8.8]

titles = [
    "WOUDC Station 024, Resolute, CANADA",
    "WOUDC Station 067, Boulder, Colorado, USA",
    "WOUDC Station 214, Singapur, SINGAPUR",
    "WOUDC Station 342, Comodoro Rivadavia, ARGENTINA",
    "WOUDC Station 101, Syowa, ANTARCTICA",
]
mean_text = ["-0.3%", "-0.3%", "-0.4%", "0.08%", "1.25%"]
rms_text = ["4.45%", "3.58%", "1.77%", "3.11%", "4.35%"]

panels = [
    (resolute_daily, resolute_qx, resolute_qy, resolute_qerr),
    (boulder_daily, q_all, boulder_qy, boulder_qerr),
    (singapur_daily, q_all, singapur_qy, singapur_qerr),
    (comodoro_daily, q_all, comodoro_qy, comodoro_qerr),
    (syowa_daily, q_all, syowa_qy, syowa_qerr),
]

# frame boxes in pixels (left, right, top, bottom) and x ranges
W, H = 638, 1278
frames = [(73, 629, 35, 209), (64, 632, 290, 463), (64, 632, 546, 719),
          (64, 632, 803, 975), (64, 632, 1057, 1230)]
xranges = [[1995.98, 2000.07], [1995.94, 2000.2], [1995.97, 2000.24],
           [1995.955, 2000.12], [1995.955, 2000.23]]

ORANGE = "#ff8000"
TXT = "#333333"
FONT = "Liberation Sans, Arial, sans-serif"

fig = go.Figure()
layout = {}
annotations = []
shapes = []

for i, (daily, qx, qy, qerr) in enumerate(panels):
    n = "" if i == 0 else str(i + 1)
    xa, ya = "x" + n, "y" + n
    left, right, top, bottom = frames[i]

    fig.add_trace(go.Scatter(
        x=[p[0] for p in daily], y=[p[1] for p in daily],
        mode="markers", marker=dict(color="black", size=5),
        xaxis=xa, yaxis=ya, showlegend=False, hoverinfo="skip",
    ))
    fig.add_trace(go.Scatter(
        x=qx, y=qy, mode="markers",
        marker=dict(color=ORANGE, size=12),
        error_y=dict(type="data", array=qerr, color=ORANGE, thickness=3, width=0),
        xaxis=xa, yaxis=ya, showlegend=False,
    ))

    axis_common = dict(
        showline=True, linecolor="black", linewidth=1.3, mirror="allticks",
        ticks="inside", ticklen=8, tickwidth=1, tickcolor="black",
        showgrid=False, zeroline=False, automargin=False,
        tickfont=dict(family=FONT, size=14, color=TXT),
    )
    layout["xaxis" + n] = dict(
        axis_common, domain=[left / W, right / W], range=xranges[i],
        anchor=ya, tick0=1996, dtick=1, tickformat="d",
        minor=dict(ticks="inside", ticklen=4, dtick=0.25, tick0=1996, tickcolor="black", showgrid=False),
        title=dict(text="year", font=dict(family=FONT, size=14, color=TXT), standoff=12),
        ticklabelstandoff=6,
    )
    layout["yaxis" + n] = dict(
        axis_common, domain=[1 - bottom / H, 1 - top / H], range=[-20.3, 20.3],
        anchor=xa, tickvals=[-20, -10, 0, 10, 20],
        minor=dict(ticks="inside", ticklen=4, dtick=2, tickcolor="black", showgrid=False),
        title=dict(text="GOME-station [%]", font=dict(family=FONT, size=14, color=TXT), standoff=10),
    )

    shapes.append(dict(
        type="line", xref=xa + " domain", yref=ya, x0=0, x1=1, y0=0, y1=0,
        line=dict(color="black", width=1.5, dash="14px,7px"), layer="above",
    ))

    annotations.append(dict(
        text=titles[i], xref="paper", yref="paper",
        x=(left + right) / 2 / W, y=1 - (top - 17) / H,
        showarrow=False, xanchor="center", yanchor="middle",
        font=dict(family=FONT, size=16, color="#222222"),
    ))
    annotations.append(dict(
        text="Mean= " + mean_text[i] + "<br>rms= " + rms_text[i],
        xref="paper", yref="paper",
        x=448 / W, y=1 - (top + 155) / H, showarrow=False, align="left",
        xanchor="left", yanchor="middle", font=dict(family=FONT, size=14, color=TXT),
    ))

fig.update_layout(
    width=W, height=H,
    margin=dict(l=0, r=0, t=0, b=0, autoexpand=False),
    paper_bgcolor="white", plot_bgcolor="white",
    font=dict(family=FONT, color=TXT),
    annotations=annotations, shapes=shapes,
    **layout,
)

# the page body has a default 8px margin; drop it so the figure sits at the corner
fig.write_html(
    "out.html",
    config={"displayModeBar": False, "staticPlot": True},
    post_script="document.body.style.margin='0px';",
)
